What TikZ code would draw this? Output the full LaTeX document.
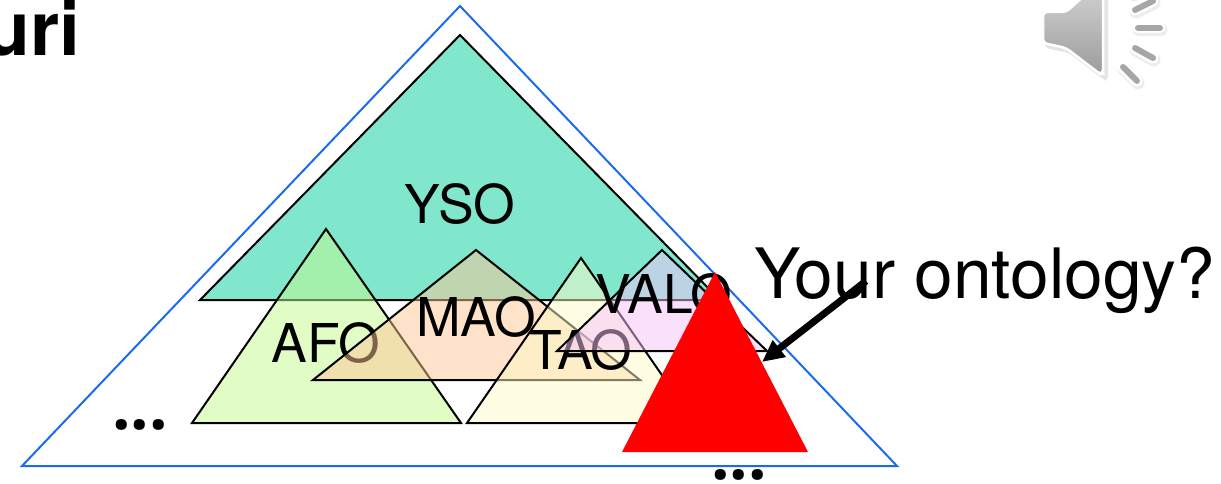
\documentclass[tikz,border=0pt]{standalone}
\usepackage{fontspec}
\setmainfont{TeX Gyre Heros}
\newfontfamily\dotsfont{Open Sans}[BoldFont={* Bold}]
\usetikzlibrary{arrows.meta}
\definecolor{ysoC}{HTML}{80E6CC}
\definecolor{afoC}{HTML}{C4FA8C}
\definecolor{maoC}{HTML}{FDC595}
\definecolor{taoC}{HTML}{FFFBC7}
\definecolor{valoC}{HTML}{F7C1F9}
\definecolor{blueC}{HTML}{1A6BF0}
\definecolor{spkTop}{HTML}{CDCDCD}
\definecolor{spkBot}{HTML}{9C9C9C}
\tikzset{
  tri/.style={draw=black,line width=2pt,line join=miter},
  lay/.style={tri,fill=#1,fill opacity=.5},
  lbl/.style={font=\fontsize{53.5}{60}\selectfont,inner sep=0pt,anchor=base,text=black},
  bigtxt/.style={font=\fontsize{69.5}{80}\selectfont,inner sep=0pt,anchor=base west,text=black},
  titletxt/.style={font=\bfseries\fontsize{75}{84}\selectfont,inner sep=0pt,anchor=base east,text=black},
  dotstxt/.style={font=\dotsfont\bfseries\fontsize{65}{70}\selectfont,inner sep=0pt,anchor=base,text=black},
  barhalo/.style={line cap=round,line width=11pt,draw=white},
  barshadow/.style={line cap=round,line width=13pt,draw=black,draw opacity=.07},
  barcore/.style={line cap=round,line width=6pt,draw=spkBot!80!spkTop},
  spk/.style={rounded corners=4pt,line join=round},
}
\begin{document}
\begin{tikzpicture}[x=1pt,y=-1pt]
\useasboundingbox (0,0) rectangle (1221,484);
\clip (0,0) rectangle (1221,484);
\node[titletxt] (title) at (81,56) {uri};
% outer triangle
\draw[draw=blueC,line width=2pt] (460,6) -- (897,466) -- (22,466) -- cycle;
% YSO
\draw[tri,fill=ysoC] (460,35) -- (720,300) -- (200,300) -- cycle;
\node[lbl] (yso) at (460,223) {YSO};
% AFO
\draw[lay=afoC] (326,229) -- (461,423) -- (192,423) -- cycle;
\node[lbl] (afo) at (326,362) {AFO};
% MAO
\draw[lay=maoC] (476,250) -- (640,380) -- (313,380) -- cycle;
\node[lbl] (mao) at (476,336) {MAO};
% TAO
\draw[lay=taoC] (581,258) -- (695,423) -- (467,423) -- cycle;
\node[lbl] (tao) at (581,369) {TAO};
% VALO
\draw[lay=valoC] (662,250) -- (767,351) -- (557,351) -- cycle;
\node[lbl] (valo) at (664,313) {VALO};
% red triangle
\fill[red] (715,272) -- (808,452) -- (622,452) -- cycle;
% dots
\node[dotstxt] (dotsA) at (140,429) {...};
\node[dotstxt] (dotsB) at (739,479) {...};
% label and arrow
\node[bigtxt] (your) at (754,298) {Your ontology?};
\coordinate (arrowStart) at (866,281);
\coordinate (arrowEnd) at (762,362);
\draw[line width=7pt,-{Triangle[width=20pt,length=22pt]}] (arrowStart) -- (arrowEnd);
% speaker icon
\begin{scope}[shift={(3,3)}]
  \fill[spk,black,opacity=.10] (1042,11) -- (1066,11) -- (1086,-6) -- (1105,-6) -- (1105,78) -- (1101,77) -- (1066,50) -- (1042,45) -- cycle;
\end{scope}
\draw[spk,draw=white,line width=2.5pt,top color=spkTop,bottom color=spkBot] (1043,12) -- (1066,12) -- (1086,-6) -- (1103,-6) -- (1103,74) -- (1100,74) -- (1066,48) -- (1043,43) -- cycle;
\foreach \xa/\ya/\xb/\yb in {1135/10/1153/1, 1138/28/1160/28, 1135/48/1153/58, 1123/67/1137/81, 1133/-7/1143/-14}{
  \draw[barshadow] (\xa+1,\ya+2) -- (\xb+1,\yb+2);
  \draw[barhalo] (\xa,\ya) -- (\xb,\yb);
  \draw[barcore] (\xa,\ya) -- (\xb,\yb);
}
\end{tikzpicture}
\end{document}
